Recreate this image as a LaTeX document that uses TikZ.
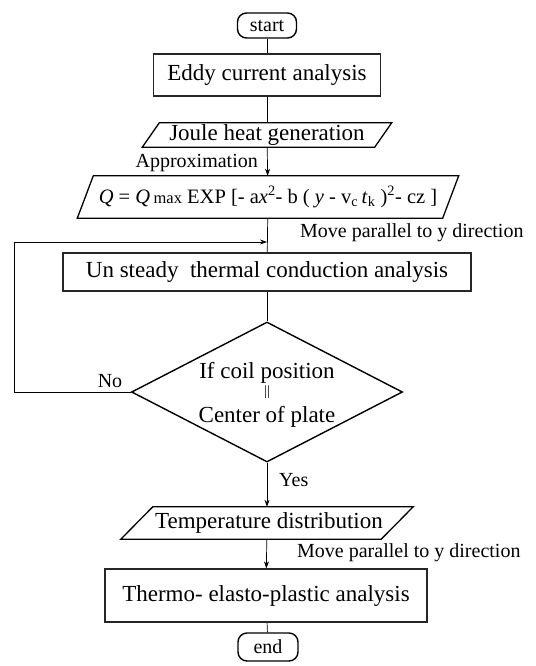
\documentclass[tikz,border=0pt]{standalone}
\usepackage{fontspec}
\setmainfont{Liberation Serif}
\usetikzlibrary{shapes.geometric,arrows.meta}
\begin{document}
\begin{tikzpicture}[x=1pt,y=-1pt,
  boxtext/.style={font=\fontsize{23}{26}\selectfont},
  procbox/.style={draw=black!85, line width=1.3pt, rectangle, inner sep=0pt, boxtext},
  iotext/.style={rectangle, inner sep=0pt, boxtext},
  iobox/.style={draw=black, line width=1.3pt, line join=miter},
  term/.style={draw, line width=1.4pt, rounded corners=9pt, inner sep=0pt, font=\fontsize{20}{22}\selectfont},
  lbl/.style={font=\fontsize{20}{22}\selectfont, inner sep=0pt},
  conn/.style={line width=0.7pt},
  arr/.style={conn, -{Stealth[length=7pt,width=5pt]}}]
\useasboundingbox (0,0) rectangle (535,666);
\fill[white] (0,0) rectangle (535,666);

% nodes
\node[term, minimum width=59pt, minimum height=25pt] (S) at (267,25.5) {start};
\node[procbox, minimum width=227pt, minimum height=42pt] (E) at (267,75) {Eddy current analysis};

\node[iotext, minimum width=249pt, minimum height=24pt] (J) at (267,135) {Joule heat generation};
\draw[iobox] ([xshift=17pt]J.north west) -- (J.north east) -- ([xshift=-17pt]J.south east) -- (J.south west) -- cycle;

\node[iotext, minimum width=381pt, minimum height=42pt, font=\fontsize{20.5}{24}\selectfont] (F) at (268,197)
  {\textit{Q} = \textit{Q}\,{\fontsize{16.5}{18}\selectfont max} EXP [- a\textit{x}\textsuperscript{2}- b ( \textit{y} - v\textsubscript{c}\,\textit{t}\textsubscript{k} )\textsuperscript{2}- cz ]};
\draw[iobox] ([xshift=16pt]F.north west) -- (F.north east) -- ([xshift=-16pt]F.south east) -- (F.south west) -- cycle;

\node[procbox, minimum width=408pt, minimum height=38pt] (U) at (267,272) {Un steady\enspace thermal conduction analysis};

\node[draw, diamond, line width=1.4pt, minimum width=271pt, minimum height=140pt, inner sep=0pt] (D) at (267,392) {};
\node[align=center, inner sep=0pt, font=\fontsize{23}{22}\selectfont] (Dt) at (267,395)
  {If coil position\\\raisebox{5pt}{\fontsize{14}{14}\selectfont ||}\\Center of plate};

\node[iotext, minimum width=292pt, minimum height=32pt] (T) at (267,523) {\hspace*{4pt}Temperature distribution};
\draw[iobox] ([xshift=32pt]T.north west) -- (T.north east) -- ([xshift=-32pt]T.south east) -- (T.south west) -- cycle;

\node[procbox, minimum width=322pt, minimum height=53pt] (H) at (266,595.5) {Thermo- elasto-plastic analysis};
\node[term, minimum width=60pt, minimum height=28pt] (N) at (268,647) {end};

% labels
\node[lbl, anchor=east] (Lap) at (258,163) {Approximation};
\node[lbl, anchor=west] (Lm1) at (300,233) {Move parallel to y direction};
\node[lbl] (Lno) at (110,381) {No};
\node[lbl, anchor=west] (Lyes) at (279,480) {Yes};
\node[lbl, anchor=west] (Lm2) at (297,553) {Move parallel to y direction};

% connectors
\coordinate (fbT) at (14,242);
\draw[conn] (S) -- (E);
\draw[conn] (E) -- (J);
\draw[arr] (J) -- (F);
\draw[conn] (F) -- (U);
\draw[arr] (D.west) -- (D.west -| fbT) -- (fbT) -- (fbT -| U.north);
\draw[conn] (U) -- (D);
\draw[arr] (D) -- (T);
\draw[arr] (T) -- (H);
\draw[conn] (H) -- (N);
\end{tikzpicture}
\end{document}
